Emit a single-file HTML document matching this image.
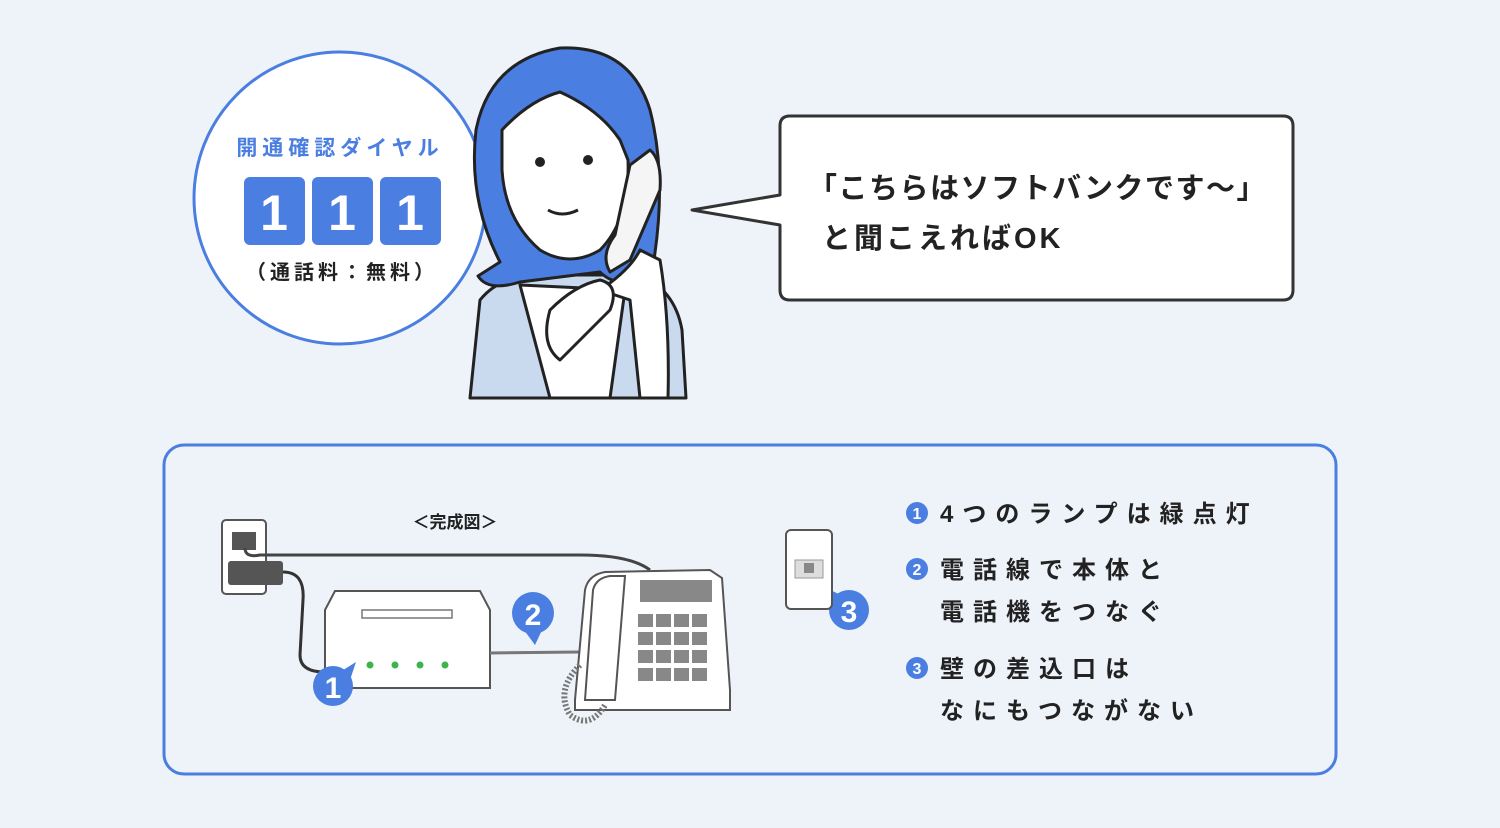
<!DOCTYPE html>
<html><head><meta charset="utf-8"><style>
html,body{margin:0;padding:0;background:#eef3f9;}
svg{display:block}
text{font-family:"Liberation Sans","Noto Sans CJK JP",sans-serif;font-weight:bold}
</style></head><body>
<svg width="1500" height="828" viewBox="0 0 1500 828" xmlns="http://www.w3.org/2000/svg">
<rect width="1500" height="828" fill="#eef3f9"/>
<!-- circle -->
<circle cx="340" cy="198" r="146" fill="#fff" stroke="#4a7ee0" stroke-width="3"/>
<text x="340" y="155" font-size="21" fill="#4a7ee0" text-anchor="middle" letter-spacing="5">開通確認ダイヤル</text>
<rect x="244" y="177" width="61" height="68" rx="6" fill="#4a7ee0"/>
<rect x="312" y="177" width="61" height="68" rx="6" fill="#4a7ee0"/>
<rect x="380" y="177" width="61" height="68" rx="6" fill="#4a7ee0"/>
<text x="274" y="230" font-size="50" fill="#fff" text-anchor="middle">1</text>
<text x="342" y="230" font-size="50" fill="#fff" text-anchor="middle">1</text>
<text x="410" y="230" font-size="50" fill="#fff" text-anchor="middle">1</text>
<text x="342" y="279" font-size="20" fill="#222" text-anchor="middle" letter-spacing="4">（通話料：無料）</text>
<!-- woman -->
<g stroke="#222" stroke-width="3" stroke-linejoin="round">
<path d="M470 398 L480 300 Q500 275 540 275 L640 275 Q675 290 682 330 L686 398 Z" fill="#c9daee"/>
<path d="M520 285 L550 398 L610 398 L625 290 Z" fill="#fff"/>
<path d="M500 262 Q468 200 476 130 Q490 60 560 48 Q630 45 650 110 Q668 180 652 272 Q620 292 600 272 L520 282 Q488 292 478 276 Z" fill="#4a7ee0"/>
<path d="M502 130 Q530 100 560 92 Q600 110 620 140 L628 160 Q630 220 600 250 Q570 268 540 250 Q505 220 502 170 Z" fill="#fff"/>
<path d="M630 165 L650 150 Q662 160 660 190 L630 260 L610 272 Q600 255 615 235 Z" fill="#f5f5f5"/>
<path d="M600 290 Q630 270 640 250 L660 260 Q670 320 668 398 L640 398 L630 300 Z" fill="#fff"/>
<path d="M550 310 Q575 285 600 280 Q620 285 610 310 L560 360 Q540 345 550 310 Z" fill="#fff"/>
</g>
<circle cx="540" cy="162" r="5" fill="#222"/><circle cx="588" cy="160" r="5" fill="#222"/>
<path d="M548 210 Q562 218 578 210" stroke="#222" stroke-width="3" fill="none"/>
<!-- speech bubble -->
<path d="M790 116 L1283 116 Q1293 116 1293 126 L1293 290 Q1293 300 1283 300 L790 300 Q780 300 780 290 L780 225 L692 210 L780 195 L780 126 Q780 116 790 116 Z" fill="#fff" stroke="#333" stroke-width="3" stroke-linejoin="round"/>
<text x="808" y="198" font-size="29" fill="#222" letter-spacing="1.5">「こちらはソフトバンクです～」</text>
<text x="822" y="248" font-size="29" fill="#222" letter-spacing="3">と聞こえればOK</text>
<!-- bottom panel -->
<rect x="164" y="445" width="1172" height="329" rx="20" fill="#eef3f9" stroke="#4a7ee0" stroke-width="3"/>
<text x="455" y="528" font-size="17" fill="#222" text-anchor="middle">＜完成図＞</text>
<!-- wall outlet -->
<rect x="222" y="520" width="44" height="74" rx="4" fill="#fff" stroke="#555" stroke-width="2"/>
<rect x="232" y="532" width="24" height="18" fill="#555"/>
<path d="M245 548 Q245 558 260 555 L580 555 Q630 555 650 570" fill="none" stroke="#444" stroke-width="3"/>
<rect x="228" y="561" width="55" height="24" rx="3" fill="#555"/>
<path d="M283 572 Q305 572 303 600 L300 655 Q300 672 325 672" fill="none" stroke="#333" stroke-width="3"/>
<!-- router -->
<path d="M325 610 L335 591 L480 591 L490 610 L490 688 L325 688 Z" fill="#fff" stroke="#555" stroke-width="2"/>
<rect x="362" y="610" width="90" height="8" fill="#fff" stroke="#777" stroke-width="1.5"/>
<g fill="#3cb44b"><circle cx="370" cy="665" r="3.5"/><circle cx="395" cy="665" r="3.5"/><circle cx="420" cy="665" r="3.5"/><circle cx="445" cy="665" r="3.5"/></g>
<path d="M490 653 L580 652" stroke="#777" stroke-width="3"/>
<!-- phone -->
<path d="M575 700 L585 590 Q588 575 605 572 L710 570 L722 578 L730 690 L730 710 L575 710 Z" fill="#fff" stroke="#555" stroke-width="2"/>
<path d="M585 700 L593 590 Q596 578 610 576 L625 576 L615 700 Z" fill="#fff" stroke="#555" stroke-width="2"/>
<rect x="640" y="580" width="72" height="22" fill="#888"/>
<g fill="#888">
<rect x="638" y="614" width="15" height="13"/><rect x="656" y="614" width="15" height="13"/><rect x="674" y="614" width="15" height="13"/><rect x="692" y="614" width="15" height="13"/>
<rect x="638" y="632" width="15" height="13"/><rect x="656" y="632" width="15" height="13"/><rect x="674" y="632" width="15" height="13"/><rect x="692" y="632" width="15" height="13"/>
<rect x="638" y="650" width="15" height="13"/><rect x="656" y="650" width="15" height="13"/><rect x="674" y="650" width="15" height="13"/><rect x="692" y="650" width="15" height="13"/>
<rect x="638" y="668" width="15" height="13"/><rect x="656" y="668" width="15" height="13"/><rect x="674" y="668" width="15" height="13"/><rect x="692" y="668" width="15" height="13"/>
</g>
<path d="M580 665 Q555 690 570 715 Q590 730 605 705" fill="none" stroke="#777" stroke-width="6" stroke-dasharray="2 2"/>
<!-- markers -->
<g fill="#4a7ee0">
<circle cx="333" cy="686" r="20"/><path d="M340 672 L356 662 L350 680 Z"/>
<circle cx="533" cy="613" r="21"/><path d="M524 630 L535 645 L542 630 Z"/>
<circle cx="849" cy="610" r="20"/><path d="M843 596 L826 588 L836 606 Z"/>
</g>
<text x="333" y="698" font-size="30" fill="#fff" text-anchor="middle">1</text>
<text x="533" y="625" font-size="30" fill="#fff" text-anchor="middle">2</text>
<text x="849" y="622" font-size="30" fill="#fff" text-anchor="middle">3</text>
<!-- outlet 3 -->
<rect x="786" y="530" width="46" height="79" rx="5" fill="#fff" stroke="#555" stroke-width="2"/>
<rect x="795" y="560" width="28" height="18" fill="#ddd" stroke="#999" stroke-width="1"/>
<rect x="804" y="563" width="10" height="10" fill="#888"/>
<!-- list -->
<g font-size="24" fill="#222" letter-spacing="9">
<circle cx="917" cy="513" r="11" fill="#4a7ee0"/><text x="917" y="519" font-size="16" fill="#fff" text-anchor="middle" letter-spacing="0">1</text>
<text x="940" y="522">4つのランプは緑点灯</text>
<circle cx="917" cy="569" r="11" fill="#4a7ee0"/><text x="917" y="575" font-size="16" fill="#fff" text-anchor="middle" letter-spacing="0">2</text>
<text x="940" y="578">電話線で本体と</text>
<text x="940" y="620">電話機をつなぐ</text>
<circle cx="917" cy="668" r="11" fill="#4a7ee0"/><text x="917" y="674" font-size="16" fill="#fff" text-anchor="middle" letter-spacing="0">3</text>
<text x="940" y="677">壁の差込口は</text>
<text x="940" y="719">なにもつながない</text>
</g>
</svg>
</body></html>
